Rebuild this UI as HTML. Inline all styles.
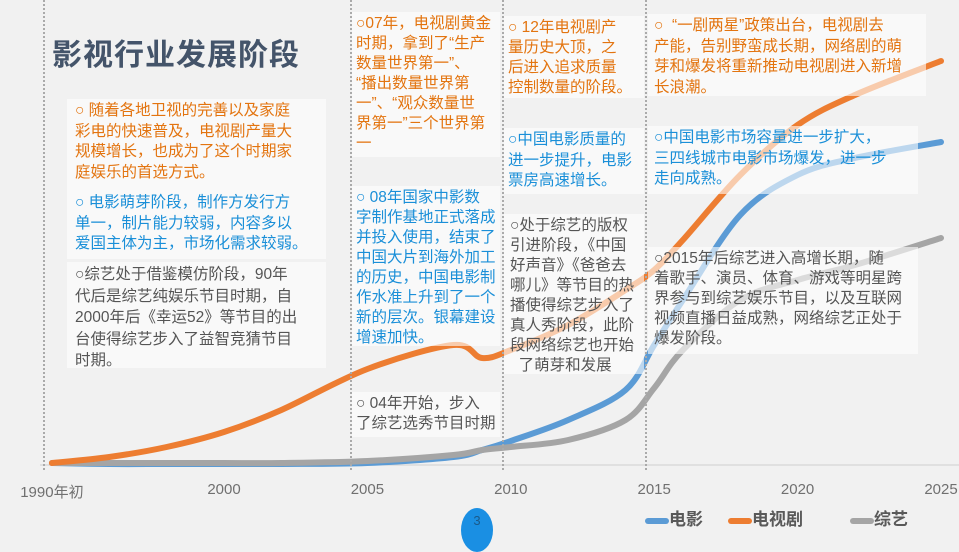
<!DOCTYPE html>
<html><head><meta charset="utf-8">
<style>
*{margin:0;padding:0;box-sizing:border-box}
body{width:959px;height:540px;overflow:hidden;background:#f1f1f1;font-family:"Liberation Sans","Noto Sans CJK SC",sans-serif;position:relative}
.box{position:absolute;background:rgba(255,255,255,0.6);font-size:15.5px;line-height:20.5px;white-space:nowrap;overflow:hidden;padding:2px 0 0 8px}
.o{color:#e3740f}.b{color:#1a8fd8}.g{color:#555}
.vl{position:absolute;top:0;height:470px;border-left:2px dotted #aaa;width:0}
.tick{position:absolute;top:481px;font-size:15px;color:#707070;transform:translateX(-50%)}
</style></head><body>
<svg width="959" height="540" style="position:absolute;left:0;top:0">
<line x1="40" y1="465" x2="959" y2="465" stroke="#d0d0d0" stroke-width="1"/>
<g id="series"></g>
</svg>
<div class="vl" style="left:43px"></div>
<div class="vl" style="left:350px"></div>
<div class="vl" style="left:502px"></div>
<div class="vl" style="left:645px"></div>

<div style="position:absolute;left:52px;top:30px;font-size:30px;font-weight:bold;color:#44546a;letter-spacing:1px">影视行业发展阶段</div>

<div class="box o" style="left:67px;top:99px;width:259px;height:92px">○ 随着各地卫视的完善以及家庭<br>彩电的快速普及，电视剧产量大<br>规模增长，也成为了这个时期家<br>庭娱乐的首选方式。</div>
<div class="box b" style="left:67px;top:191px;width:259px;height:68px">○ 电影萌芽阶段，制作方发行方<br>单一，制片能力较弱，内容多以<br>爱国主体为主，市场化需求较弱。</div>
<div class="box g" style="left:67px;top:262px;width:259px;height:106px;line-height:21.5px">○综艺处于借鉴模仿阶段，90年<br>代后是综艺纯娱乐节目时期，自<br>2000年后《幸运52》等节目的出<br>台使得综艺步入了益智竞猜节目<br>时期。</div>

<div class="box o" style="left:352px;top:12px;width:148px;height:145px;padding-left:4px;line-height:20px">○07年，电视剧黄金<br>时期，拿到了“生产<br>数量世界第一”、<br>“播出数量世界第<br>一”、“观众数量世<br>界第一”三个世界第<br>一</div>
<div class="box b" style="left:352px;top:186px;width:148px;height:160px;padding-left:4px;line-height:20px">○ 08年国家中影数<br>字制作基地正式落成<br>并投入使用，结束了<br>中国大片到海外加工<br>的历史，中国电影制<br>作水准上升到了一个<br>新的层次。银幕建设<br>增速加快。</div>
<div class="box g" style="left:352px;top:392px;width:148px;height:45px;padding-left:4px;line-height:20px">○ 04年开始，步入<br>了综艺选秀节目时期</div>

<div class="box o" style="left:504px;top:16px;width:140px;height:82px;padding-left:4px;line-height:20px">○ 12年电视剧产<br>量历史大顶，之<br>后进入追求质量<br>控制数量的阶段。</div>
<div class="box b" style="left:504px;top:128px;width:140px;height:66px;padding-left:4px;line-height:20.5px">○中国电影质量的<br>进一步提升，电影<br>票房高速增长。</div>
<div class="box g" style="left:504px;top:214px;width:140px;height:160px;padding-left:6px;line-height:20px">○处于综艺的版权<br>引进阶段，《中国<br>好声音》《爸爸去<br>哪儿》等节目的热<br>播使得综艺步入了<br>真人秀阶段，此阶<br>段网络综艺也开始<br>&nbsp;&nbsp;了萌芽和发展</div>

<div class="box o" style="left:648px;top:14px;width:278px;height:82px;padding-left:6px;line-height:20.5px">○ &nbsp;“一剧两星”政策出台，电视剧去<br>产能，告别野蛮成长期，网络剧的萌<br>芽和爆发将重新推动电视剧进入新增<br>长浪潮。</div>
<div class="box b" style="left:648px;top:126px;width:270px;height:68px;padding-left:6px;line-height:20.5px">○中国电影市场容量进一步扩大，<br>三四线城市电影市场爆发，进一步<br>走向成熟。</div>
<div class="box g" style="left:648px;top:247px;width:270px;height:107px;padding-left:6px;line-height:20px">○2015年后综艺进入高增长期，随<br>着歌手、演员、体育、游戏等明星跨<br>界参与到综艺娱乐节目，以及互联网<br>视频直播日益成熟，网络综艺正处于<br>爆发阶段。</div>

<div id="ticks"></div>

<div style="position:absolute;left:645px;top:505px;font-size:17px;color:#595959;font-weight:bold">
<span style="position:absolute;left:0;top:0;white-space:nowrap"><span style="display:inline-block;width:24px;height:6px;border-radius:3px;background:#5b9bd5;vertical-align:middle"></span>电影</span>
<span style="position:absolute;left:83px;top:0;white-space:nowrap"><span style="display:inline-block;width:24px;height:6px;border-radius:3px;background:#ed7d31;vertical-align:middle"></span>电视剧</span>
<span style="position:absolute;left:205px;top:0;white-space:nowrap"><span style="display:inline-block;width:24px;height:6px;border-radius:3px;background:#a5a5a5;vertical-align:middle"></span>综艺</span>
</div>
<div style="position:absolute;left:461px;top:508px;width:32px;height:44px;border-radius:50%;background:#1a8fe3;color:#1a5a8a;font-size:13px;text-align:center;padding-top:5px">3</div>

<script>
const years=[1994,1996,1998,2000,2002,2005,2008,2009,2010,2012,2014,2015,2016,2018,2020,2022,2025];
const tvValues=[0.5,2,4.5,8.25,13.75,24,30,26.75,28.75,35,43.75,48.75,56.25,72.5,85,92.5,101];
const filmValues=[0.5,0.25,0.25,0.25,0.25,0.5,2,3.75,6,11.25,18.75,30,41.25,62.5,72.5,76.75,80.75];
const varietyValues=[0.5,0.5,0.5,0.5,0.5,1,2.5,3.75,4.5,6.25,11.25,19.25,28.75,41.25,46.25,50,56.75];
const tickYears=[1994,2000,2005,2010,2015,2020,2025];
const tickLabels=["1990年初","2000","2005","2010","2015","2020","2025"];

function xs(y){return 224+(y-2000)*28.68;}
function ys(v){return 465-v*4;}
function pathFor(vals){
  const p=years.map((y,i)=>[xs(y),ys(vals[i])]);
  let d="M"+p[0][0]+","+p[0][1];
  for(let i=0;i<p.length-1;i++){
    const p0=p[i-1]||p[i],p1=p[i],p2=p[i+1],p3=p[i+2]||p2;
    const c1=[p1[0]+(p2[0]-p0[0])/6,p1[1]+(p2[1]-p0[1])/6];
    const c2=[p2[0]-(p3[0]-p1[0])/6,p2[1]-(p3[1]-p1[1])/6];
    d+=" C"+c1+" "+c2+" "+p2;
  }
  return d;
}
const g=document.getElementById("series");
const series=[["series-film",filmValues,"#5b9bd5"],["series-variety",varietyValues,"#a5a5a5"],["series-tv",tvValues,"#ed7d31"]];
series.forEach(s=>{
  const el=document.createElementNS("http://www.w3.org/2000/svg","path");
  el.setAttribute("d",pathFor(s[1]));
  el.setAttribute("fill","none");
  el.setAttribute("stroke",s[2]);
  el.setAttribute("stroke-width","6");
  el.setAttribute("stroke-linecap","round");
  
  
  g.appendChild(el);
});
const t=document.getElementById("ticks");
tickYears.forEach((y,i)=>{
  const d=document.createElement("div");
  d.className="tick";
  d.style.left=xs(y)+"px";
  d.textContent=tickLabels[i];
  
  
  t.appendChild(d);
});
</script>
</body></html>
